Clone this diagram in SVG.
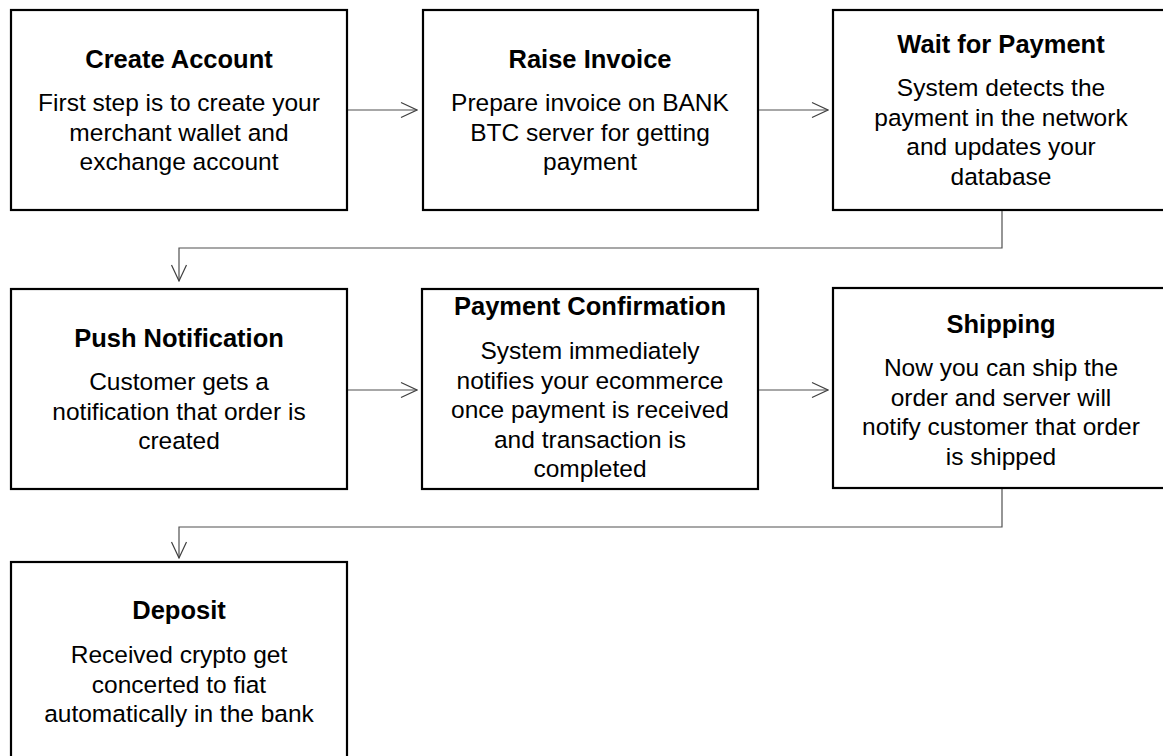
<svg xmlns="http://www.w3.org/2000/svg" width="1163" height="756" viewBox="0 0 1163 756">
  <style>
    .box { fill: #ffffff; stroke: #000000; stroke-width: 2.2; }
    .title { font-family: "Liberation Sans", Arial, sans-serif; font-weight: bold; font-size: 25.5px; fill: #000000; text-anchor: middle; }
    .body { font-family: "Liberation Sans", Arial, sans-serif; font-size: 24.5px; fill: #000000; text-anchor: middle; }
    .conn { fill: none; stroke: #505050; stroke-width: 1.2; }
  </style>
  <defs>
    <marker id="arrow" markerUnits="userSpaceOnUse" viewBox="0 0 18 18" refX="17" refY="9" markerWidth="18" markerHeight="18" orient="auto">
      <path d="M1,1.5 L17,9 L1,16.5" fill="none" stroke="#404040" stroke-width="1.2"/>
    </marker>
  </defs>
  <rect width="1163" height="756" fill="#ffffff"/>

  <g id="connectors">
    <path class="conn" d="M347,110 L417,110" marker-end="url(#arrow)"/>
    <path class="conn" d="M758,110 L828,110" marker-end="url(#arrow)"/>
    <path class="conn" d="M1002,211 L1002,248 L179,248 L179,281" marker-end="url(#arrow)"/>
    <path class="conn" d="M347,390 L417,390" marker-end="url(#arrow)"/>
    <path class="conn" d="M758,390 L828,390" marker-end="url(#arrow)"/>
    <path class="conn" d="M1002,489 L1002,527 L179,527 L179,558" marker-end="url(#arrow)"/>
  </g>

  <g id="create-account">
    <rect class="box" x="11" y="10" width="336" height="200"/>
    <text class="title" x="179" y="68">Create Account</text>
    <text class="body" x="179" y="111">First step is to create your</text>
    <text class="body" x="179" y="140.5">merchant wallet and</text>
    <text class="body" x="179" y="170">exchange account</text>
  </g>

  <g id="raise-invoice">
    <rect class="box" x="423" y="10" width="335" height="200"/>
    <text class="title" x="590" y="68">Raise Invoice</text>
    <text class="body" x="590" y="111">Prepare invoice on BANK</text>
    <text class="body" x="590" y="140.5">BTC server for getting</text>
    <text class="body" x="590" y="170">payment</text>
  </g>

  <g id="wait-for-payment">
    <rect class="box" x="833" y="10" width="336" height="200"/>
    <text class="title" x="1001" y="53">Wait for Payment</text>
    <text class="body" x="1001" y="96">System detects the</text>
    <text class="body" x="1001" y="125.5">payment in the network</text>
    <text class="body" x="1001" y="155">and updates your</text>
    <text class="body" x="1001" y="184.5">database</text>
  </g>

  <g id="push-notification">
    <rect class="box" x="11" y="289" width="336" height="200"/>
    <text class="title" x="179" y="347">Push Notification</text>
    <text class="body" x="179" y="390">Customer gets a</text>
    <text class="body" x="179" y="419.5">notification that order is</text>
    <text class="body" x="179" y="449">created</text>
  </g>

  <g id="payment-confirmation">
    <rect class="box" x="422" y="289" width="336" height="200"/>
    <text class="title" x="590" y="315">Payment Confirmation</text>
    <text class="body" x="590" y="359">System immediately</text>
    <text class="body" x="590" y="388.5">notifies your ecommerce</text>
    <text class="body" x="590" y="418">once payment is received</text>
    <text class="body" x="590" y="447.5">and transaction is</text>
    <text class="body" x="590" y="477">completed</text>
  </g>

  <g id="shipping">
    <rect class="box" x="833" y="288" width="336" height="200"/>
    <text class="title" x="1001" y="333">Shipping</text>
    <text class="body" x="1001" y="376">Now you can ship the</text>
    <text class="body" x="1001" y="405.5">order and server will</text>
    <text class="body" x="1001" y="435">notify customer that order</text>
    <text class="body" x="1001" y="464.5">is shipped</text>
  </g>

  <g id="deposit">
    <rect class="box" x="11" y="562" width="336" height="210"/>
    <text class="title" x="179" y="619">Deposit</text>
    <text class="body" x="179" y="663">Received crypto get</text>
    <text class="body" x="179" y="692.5">concerted to fiat</text>
    <text class="body" x="179" y="722">automatically in the bank</text>
  </g>
</svg>
